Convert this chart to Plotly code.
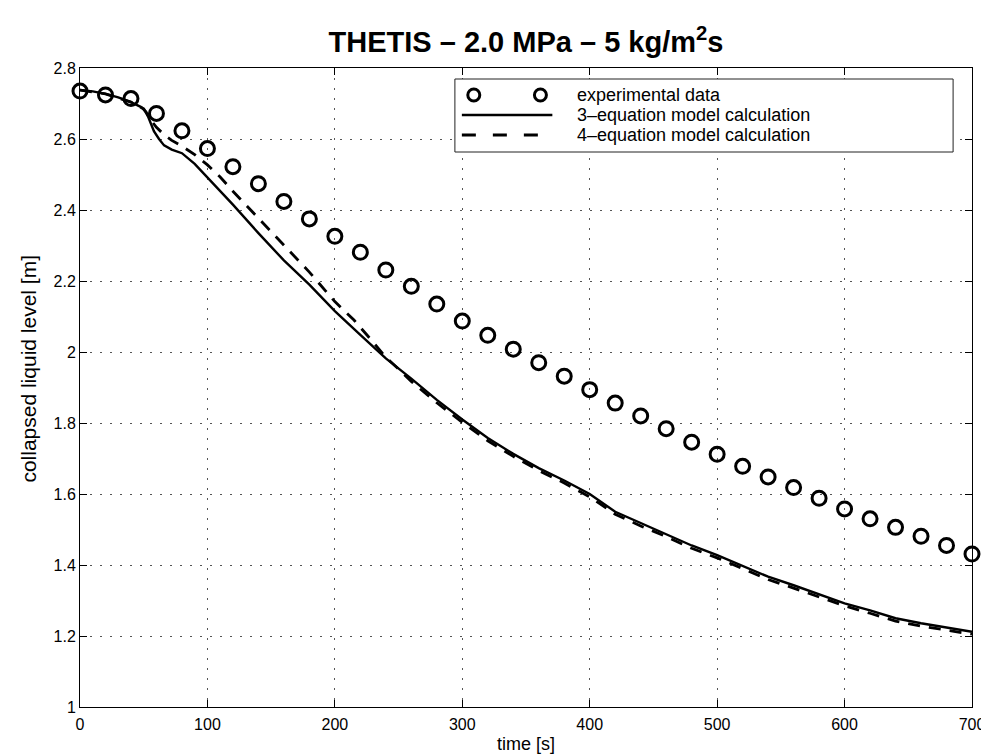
import plotly.graph_objects as go

# ---- data ----
t_exp = [0, 20, 40, 60, 80, 100, 120, 140, 160, 180, 200, 220, 240, 260, 280, 300,
         320, 340, 360, 380, 400, 420, 440, 460, 480, 500, 520, 540, 560, 580, 600,
         620, 640, 660, 680, 700]
h_exp = [2.735, 2.724, 2.714, 2.672, 2.623, 2.573, 2.522, 2.474, 2.424, 2.375, 2.326,
         2.281, 2.231, 2.185, 2.135, 2.087, 2.047, 2.008, 1.970, 1.932, 1.894, 1.856,
         1.820, 1.784, 1.746, 1.712, 1.678, 1.648, 1.618, 1.588, 1.558, 1.530, 1.506,
         1.481, 1.455, 1.431]

t_3eq = [0, 10, 20, 30, 40, 48, 52, 55, 58, 62, 66, 72, 80, 90, 100, 110, 120, 140,
         160, 180, 200, 220, 240, 260, 280, 300, 320, 340, 360, 380, 400, 420, 440,
         460, 480, 500, 520, 540, 560, 580, 600, 620, 640, 660, 680, 700]
h_3eq = [2.738, 2.734, 2.727, 2.717, 2.704, 2.690, 2.676, 2.648, 2.622, 2.600, 2.582,
         2.570, 2.560, 2.530, 2.492, 2.455, 2.415, 2.335, 2.258, 2.190, 2.115, 2.048,
         1.982, 1.925, 1.865, 1.810, 1.758, 1.713, 1.673, 1.638, 1.600, 1.550, 1.518,
         1.488, 1.455, 1.428, 1.398, 1.367, 1.343, 1.318, 1.292, 1.272, 1.250, 1.236,
         1.224, 1.212]

t_4eq = [0, 20, 40, 50, 55, 60, 66, 72, 80, 90, 100, 110, 120, 130, 140, 160, 180,
         200, 215, 230, 240, 250, 260, 280, 300, 320, 340, 360, 380, 400, 420, 440,
         460, 480, 500, 520, 540, 560, 580, 600, 620, 640, 660, 680, 700]
h_4eq = [2.738, 2.727, 2.704, 2.685, 2.656, 2.633, 2.612, 2.596, 2.580, 2.556, 2.527,
         2.493, 2.453, 2.415, 2.378, 2.303, 2.225, 2.142, 2.090, 2.028, 1.985, 1.952,
         1.917, 1.857, 1.802, 1.750, 1.706, 1.666, 1.631, 1.592, 1.543, 1.510, 1.480,
         1.447, 1.420, 1.390, 1.359, 1.335, 1.311, 1.285, 1.264, 1.242, 1.228, 1.216,
         1.205]

x_ticks = [0, 100, 200, 300, 400, 500, 600, 700]
y_ticks = [1, 1.2, 1.4, 1.6, 1.8, 2, 2.2, 2.4, 2.6, 2.8]
legend_labels = ["experimental data", "3\u2013equation model calculation",
                 "4\u2013equation model calculation"]
title_text = "THETIS \u2013 2.0 MPa \u2013 5 kg/m<sup>2</sup>s"
x_label = "time [s]"
y_label = "collapsed liquid level [m]"

# ---- layout geometry ----
W, H = 989, 754
ML, MR, MT, MB = 72, 20, 60, 55
PW, PH = W - ML - MR, H - MT - MB
FONT = "Liberation Sans, Arial, sans-serif"


def px(xp):
    return (xp - ML) / PW


def py(yp):
    return (H - MB - yp) / PH


fig = go.Figure()
fig.add_trace(go.Scatter(x=t_3eq, y=h_3eq, mode="lines",
                         line=dict(color="black", width=2.4), showlegend=False))
fig.add_trace(go.Scatter(x=t_4eq, y=h_4eq, mode="lines",
                         line=dict(color="black", width=2.8, dash="12px,9px"),
                         showlegend=False))
fig.add_trace(go.Scatter(x=t_exp, y=h_exp, mode="markers",
                         marker=dict(symbol="circle-open", size=14, color="black",
                                     line=dict(width=3, color="black")),
                         showlegend=False, cliponaxis=False))

# ---- custom MATLAB-style legend ----
shapes = []
annos = []
bx0, bx1, by0, by1 = 449, 950, 71, 144
shapes.append(dict(type="rect", xref="paper", yref="paper",
                   x0=px(bx0), x1=px(bx1), y0=py(by1), y1=py(by0),
                   line=dict(color="#222", width=1), fillcolor="white", layer="above"))
rows = [87, 107, 127]
for cx in (468, 535):
    shapes.append(dict(type="circle", xref="paper", yref="paper",
                       xsizemode="pixel", ysizemode="pixel",
                       xanchor=px(cx), yanchor=py(rows[0]),
                       x0=-6, x1=6, y0=-6, y1=6,
                       line=dict(color="black", width=3), layer="above"))
shapes.append(dict(type="line", xref="paper", yref="paper",
                   x0=px(456), x1=px(547), y0=py(rows[1]), y1=py(rows[1]),
                   line=dict(color="black", width=2.4), layer="above"))
shapes.append(dict(type="line", xref="paper", yref="paper",
                   x0=px(456), x1=px(547), y0=py(rows[2]), y1=py(rows[2]),
                   line=dict(color="black", width=2.8, dash="14px,17px"), layer="above"))
for r, lab in zip(rows, legend_labels):
    annos.append(dict(text=lab, xref="paper", yref="paper", x=px(570), y=py(r),
                      xanchor="left", yanchor="middle", showarrow=False,
                      font=dict(family=FONT, size=18, color="black")))

# axis labels
annos.append(dict(text=y_label, xref="paper", yref="paper", x=px(20), y=0.53,
                  textangle=-90, xanchor="center", yanchor="middle", showarrow=False,
                  font=dict(family=FONT, size=21, color="black")))
annos.append(dict(text=x_label, xref="paper", yref="paper", x=0.5, y=py(736),
                  xanchor="center", yanchor="middle", showarrow=False,
                  font=dict(family=FONT, size=18, color="black")))

fig.update_layout(
    width=W, height=H,
    margin=dict(l=ML, r=MR, t=MT, b=MB),
    paper_bgcolor="white", plot_bgcolor="white",
    title=dict(text=title_text, x=0.5, xref="paper", y=1 - 34 / H, yref="container",
               xanchor="center", yanchor="middle",
               font=dict(family=FONT, size=29, color="black", weight="bold")),
    shapes=shapes, annotations=annos,
    font=dict(family=FONT, size=16, color="black"),
)
axis_common = dict(showline=True, linecolor="black", linewidth=1, mirror="ticks",
                   ticks="inside", ticklen=7, tickcolor="black",
                   showgrid=True, gridcolor="#555", gridwidth=1, griddash="2px,8px",
                   zeroline=False, tickfont=dict(family=FONT, size=16, color="black"))
fig.update_xaxes(range=[0, 700], tickvals=x_ticks, ticklabelstandoff=3, **axis_common)
fig.update_yaxes(range=[1, 2.8], tickvals=y_ticks, **axis_common)

fig.write_html("out.html")
